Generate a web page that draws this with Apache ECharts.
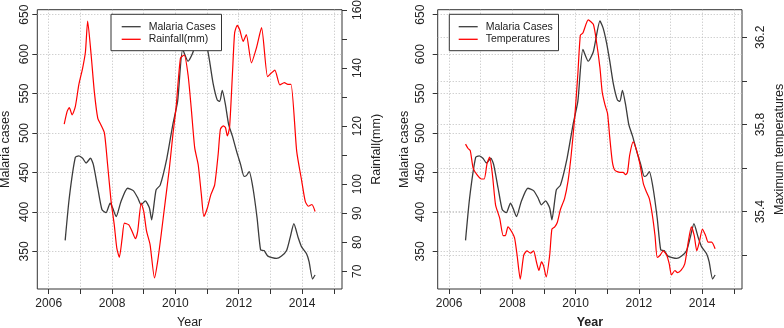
<!DOCTYPE html>
<html>
<head>
<meta charset="UTF-8">
<title>Malaria cases, rainfall and temperature</title>
<script src="https://cdn.jsdelivr.net/npm/echarts@6/dist/echarts.min.js"></script>
<style>body{margin:0;background:#fff}</style>
</head>
<body>
<div id="chart" style="width:784px;height:328px"></div>
<script type="text/javascript">
// data (x = decimal year)
var malariaYears = [2006.52, 2006.65, 2006.84, 2006.95, 2007.07, 2007.18, 2007.32, 2007.41, 2007.55, 2007.68, 2007.81, 2007.94,
  2008.02, 2008.13, 2008.28, 2008.49, 2008.67, 2008.81, 2008.92, 2009.05, 2009.18, 2009.25, 2009.39, 2009.52, 2009.73, 2009.92,
  2010.07, 2010.23, 2010.40, 2010.56, 2010.77, 2010.87, 2010.98, 2011.08, 2011.19, 2011.32, 2011.40, 2011.48, 2011.58, 2011.68,
  2011.80, 2011.93, 2012.06, 2012.17, 2012.24, 2012.33, 2012.45, 2012.58, 2012.69, 2012.80, 2012.92, 2013.19, 2013.35, 2013.51,
  2013.62, 2013.74, 2013.88, 2013.98, 2014.14, 2014.22, 2014.33, 2014.41];
var malariaCases = [364, 418, 469, 471, 468, 462, 468, 460, 430, 403, 399, 411,
  405, 394, 413, 430, 427, 418, 409, 414, 405, 390, 428, 434, 468, 511,
  540, 606, 591, 603, 642, 633, 614, 591, 563, 542, 540, 554, 536, 511,
  496, 477, 460, 445, 446, 451, 430, 392, 352, 351, 344, 341, 344, 351,
  367, 385, 367, 356, 347, 337, 315, 320];

var rainYears = [2006.49, 2006.58, 2006.65, 2006.74, 2006.84, 2006.95, 2007.07, 2007.16, 2007.23, 2007.34, 2007.44, 2007.55,
  2007.65, 2007.76, 2007.86, 2007.97, 2008.07, 2008.15, 2008.23, 2008.32, 2008.39, 2008.53, 2008.63, 2008.74, 2008.81, 2008.92,
  2009.00, 2009.09, 2009.20, 2009.34, 2009.44, 2009.55, 2009.68, 2009.81, 2009.92, 2010.02, 2010.16, 2010.28, 2010.40, 2010.50,
  2010.61, 2010.72, 2010.82, 2010.90, 2011.01, 2011.12, 2011.24, 2011.35, 2011.42, 2011.51, 2011.58, 2011.64, 2011.71, 2011.80,
  2011.87, 2011.95, 2012.03, 2012.14, 2012.24, 2012.40, 2012.56, 2012.72, 2012.91, 2013.02, 2013.14, 2013.30, 2013.44, 2013.55,
  2013.65, 2013.83, 2013.99, 2014.10, 2014.20, 2014.31, 2014.41];
var rainfall = [120.7, 125.0, 126.4, 123.9, 126.7, 134.2, 139.9, 145.6, 156.2, 144.5, 131.9, 122.7,
  120.4, 117.6, 106.7, 94.1, 86.0, 78.0, 74.8, 81.5, 86.6, 86.0, 83.8, 81.2, 83.8, 93.5,
  90.6, 83.8, 79.2, 67.7, 73.4, 82.6, 94.1, 105.5, 117.0, 126.2, 143.4, 144.5, 137.6, 126.2,
  112.5, 106.7, 96.4, 88.9, 91.8, 96.4, 99.8, 110.3, 118.9, 120.1, 119.5, 116.6, 119.5, 137.8,
  152.1, 154.7, 153.2, 149.2, 151.5, 141.8, 147.0, 153.9, 137.0, 138.2, 139.3, 134.2, 135.0, 134.4,
  134.4, 111.3, 101.0, 94.1, 92.4, 93.0, 90.6];

var tempYears = [2006.52, 2006.60, 2006.67, 2006.76, 2006.88, 2007.02, 2007.11, 2007.20, 2007.28, 2007.37, 2007.47, 2007.60,
  2007.71, 2007.78, 2007.86, 2007.97, 2008.07, 2008.15, 2008.25, 2008.36, 2008.46, 2008.57, 2008.67, 2008.76, 2008.84, 2008.92,
  2008.99, 2009.07, 2009.18, 2009.25, 2009.34, 2009.42, 2009.52, 2009.65, 2009.76, 2009.86, 2009.97, 2010.07, 2010.15, 2010.23,
  2010.40, 2010.56, 2010.66, 2010.77, 2010.84, 2010.93, 2011.01, 2011.08, 2011.16, 2011.24, 2011.40, 2011.50, 2011.58, 2011.64,
  2011.71, 2011.82, 2011.93, 2012.03, 2012.14, 2012.24, 2012.33, 2012.42, 2012.51, 2012.58, 2012.67, 2012.77, 2012.88, 2012.96,
  2013.03, 2013.14, 2013.22, 2013.33, 2013.45, 2013.56, 2013.66, 2013.75, 2013.83, 2013.91, 2014.01, 2014.11, 2014.19, 2014.30,
  2014.41];
var temperatures = [35.71, 35.69, 35.68, 35.60, 35.57, 35.55, 35.55, 35.62, 35.65, 35.57, 35.43, 35.37,
  35.29, 35.29, 35.33, 35.31, 35.28, 35.20, 35.09, 35.20, 35.22, 35.21, 35.22, 35.17, 35.13, 35.17,
  35.15, 35.10, 35.20, 35.32, 35.33, 35.35, 35.41, 35.46, 35.54, 35.66, 35.83, 36.03, 36.21, 36.22,
  36.28, 36.26, 36.18, 36.06, 35.95, 35.89, 35.85, 35.74, 35.63, 35.59, 35.58, 35.58, 35.57, 35.58,
  35.66, 35.72, 35.68, 35.62, 35.53, 35.49, 35.46, 35.39, 35.29, 35.19, 35.20, 35.22, 35.20, 35.16,
  35.11, 35.13, 35.12, 35.13, 35.16, 35.26, 35.33, 35.29, 35.22, 35.26, 35.32, 35.29, 35.26, 35.26,
  35.23];

var yearTicks = [2006, 2007, 2008, 2009, 2010, 2011, 2012, 2013, 2014, 2015];
var yearLabels = [2006, 2008, 2010, 2012, 2014];
var caseTicks = [350, 400, 450, 500, 550, 600, 650];
var rainTicks = [70, 80, 90, 100, 110, 120, 130, 140, 150, 160];
var rainLabels = [70, 80, 90, 100, 120, 140, 160];
var tempTicks = [35.2, 35.4, 35.6, 35.8, 36.0, 36.2];
var tempLabels = [35.4, 35.8, 36.2];

var font = '"Liberation Sans", Arial, sans-serif';
var ink = '#222';
var gridLine = {show: true, lineStyle: {color: '#bdbdbd', type: [1, 2], width: 1}};

function pairs(xs, ys) {
	return xs.map(function (x, i) { return [x, ys[i]]; });
}

function txt(size, bold) {
	return {fontFamily: font, fontSize: size, color: ink, fontWeight: bold ? 'bold' : 'normal'};
}

function yearAxis(g, bold) {
	return {
		type: 'value', gridIndex: g, min: 2005.64, max: 2015.26,
		name: 'Year', nameLocation: 'middle', nameGap: 27, nameTextStyle: txt(12.5, bold),
		axisLine: {show: false, onZero: false},
		axisTick: {show: true, length: 5, customValues: yearTicks, lineStyle: {color: '#333'}},
		axisLabel: Object.assign({customValues: yearLabels, margin: 9, formatter: function (v) { return String(v); }}, txt(12)),
		splitLine: gridLine
	};
}

function sideAxis(g, pos, min, max, ticks, labels, name, lblMargin, nameGap, grid, fmt) {
	return {
		type: 'value', gridIndex: g, position: pos, min: min, max: max,
		name: name, nameLocation: 'middle', nameGap: nameGap, nameRotate: 90, nameTextStyle: txt(12.5),
		axisLine: {show: false, onZero: false},
		axisTick: {show: true, length: 5, customValues: ticks, lineStyle: {color: '#333'}},
		axisLabel: Object.assign({customValues: labels, rotate: 90, margin: lblMargin, formatter: fmt}, txt(12)),
		splitLine: grid ? gridLine : {show: false}
	};
}

function legendBox(left, pad, names) {
	return {
		orient: 'vertical', left: left, top: 14.3, padding: pad, itemGap: 0,
		icon: 'rect', itemWidth: 19, itemHeight: 1.3, selectedMode: false,
		backgroundColor: '#fff', borderColor: '#333', borderWidth: 1, borderRadius: 0,
		data: names,
		textStyle: Object.assign({lineHeight: 12.6, padding: [0, 0, 0, 3]}, txt(10.5))
	};
}

function line(name, xi, yi, data, color, w) {
	return {
		name: name, type: 'line', xAxisIndex: xi, yAxisIndex: yi, data: data,
		symbol: 'none', smooth: 0.2, lineStyle: {color: color, width: w}, itemStyle: {color: color}
	};
}

var mychart = echarts.init(document.getElementById('chart'));
var plain = function (v) { return String(v); };
var option = {
	animation: false,
	backgroundColor: '#fff',
	grid: [
		{left: 37.3, right: 442, top: 9.7, bottom: 39, show: true, borderColor: '#333', borderWidth: 1,
			backgroundColor: 'transparent', containLabel: false, outerBoundsMode: 'none'},
		{left: 437.7, right: 42, top: 9.7, bottom: 39, show: true, borderColor: '#333', borderWidth: 1,
			backgroundColor: 'transparent', containLabel: false, outerBoundsMode: 'none'}
	],
	legend: [
		legendBox(111, [6.1, 5.7, 5.1, 10.7], ['Malaria Cases', 'Rainfall(mm)']),
		legendBox(449.3, [6.1, 5.7, 5.1, 9.4], ['Malaria Cases', 'Temperatures'])
	],
	xAxis: [yearAxis(0, false), yearAxis(1, true)],
	yAxis: [
		sideAxis(0, 'left', 302.3, 656.3, caseTicks, caseTicks, 'Malaria cases', 7, 25, true, plain),
		sideAxis(0, 'right', 63.9, 160.1, rainTicks, rainLabels, 'Rainfall(mm)', 10, 28, false, plain),
		sideAxis(1, 'left', 302.3, 656.3, caseTicks, caseTicks, 'Malaria cases', 11, 27, true, plain),
		sideAxis(1, 'right', 35.045, 36.327, tempTicks, tempLabels, 'Maximum temperatures', 13, 31, true,
			function (v) { return v.toFixed(1); })
	],
	series: [
		line('Malaria Cases', 0, 0, pairs(malariaYears, malariaCases), '#3c3c3c', 1.3),
		line('Rainfall(mm)', 0, 1, pairs(rainYears, rainfall), '#ff0000', 1.2),
		line('Malaria Cases', 1, 2, pairs(malariaYears, malariaCases), '#3c3c3c', 1.3),
		line('Temperatures', 1, 3, pairs(tempYears, temperatures), '#ff0000', 1.2)
	]
};
mychart.setOption(option);
</script>
</body>
</html>
